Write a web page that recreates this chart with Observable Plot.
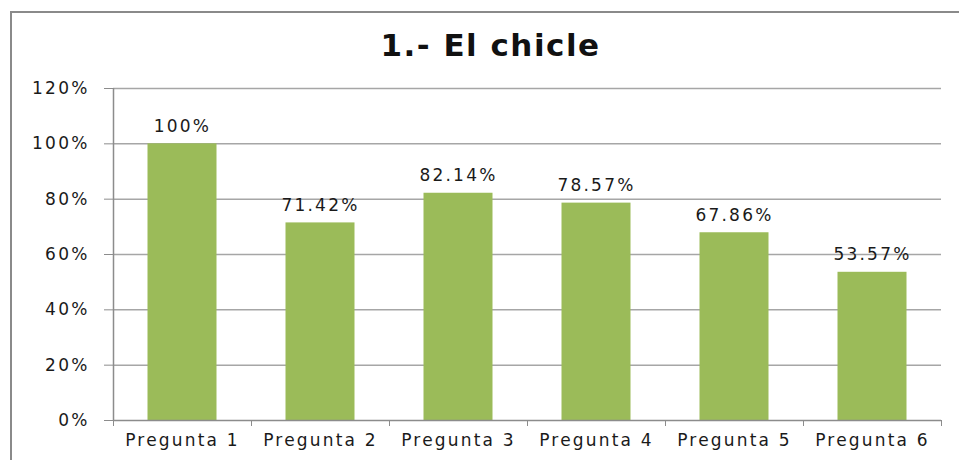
<!DOCTYPE html>
<html><head><meta charset="utf-8">
<script src="https://cdn.jsdelivr.net/npm/d3@7"></script>
<script src="https://cdn.jsdelivr.net/npm/@observablehq/plot@0.6"></script>
<style>
body{margin:0;background:#fff;}
#wrap{position:relative;width:959px;height:460px;overflow:hidden;background:#fff;}
#border{position:absolute;left:10px;top:11px;width:1000px;height:1000px;border:2px solid #8a8a8a;}
#title{position:absolute;left:11px;width:959px;top:27px;text-align:center;font:bold 31px "DejaVu Sans";letter-spacing:1.5px;color:#111;}
#chart{position:absolute;left:0;top:0;}
</style></head><body><div id="wrap"><div id="border"></div><div id="chart"></div><div id="title">1.- El chicle</div></div>
<script>
const categories = ["Pregunta 1", "Pregunta 2", "Pregunta 3", "Pregunta 4", "Pregunta 5", "Pregunta 6"];
const values = [1, 0.7142, 0.8214, 0.7857, 0.6786, 0.5357];
const valueLabels = ["100%", "71.42%", "82.14%", "78.57%", "67.86%", "53.57%"];
const yTicks = [0, 0.2, 0.4, 0.6, 0.8, 1, 1.2];

const data = categories.map((c, i) => ({cat: c, i, value: values[i], label: valueLabels[i]}));

const chart = Plot.plot({
  width: 959, height: 460,
  marginLeft: 113, marginRight: 18, marginTop: 88, marginBottom: 40,
  style: {fontFamily: "DejaVu Sans", fontSize: "17px", letterSpacing: "2.2px", color: "#1a1a1a", background: "transparent"},
  x: {domain: [0, 6], axis: null},
  y: {domain: [0, 1.2], axis: null},
  marks: [
    Plot.gridY(yTicks.slice(1), {stroke: "#a6a6a6", strokeOpacity: 1, strokeWidth: 1.5}),
    Plot.rectY(data, {x1: d => d.i + 0.25, x2: d => d.i + 0.75, y1: 0, y2: "value", fill: "#9BBB59"}),
    Plot.axisY(yTicks, {tickFormat: d3.format(".0%"), tickSize: 9, tickPadding: 15, stroke: "#8c8c8c", label: null}),
    Plot.ruleX([0], {stroke: "#8c8c8c", strokeWidth: 1.5}),
    Plot.ruleY([0], {stroke: "#8c8c8c", strokeWidth: 1.5}),
    Plot.axisX(d3.range(categories.length + 1), {tickSize: 6, tickFormat: () => "", stroke: "#8c8c8c", label: null}),
    Plot.axisX(data.map(d => d.i + 0.5), {tickSize: 0, tickPadding: 13, tickFormat: d => categories[Math.floor(d)], label: null}),
    Plot.text(data, {x: d => d.i + 0.5, y: "value", text: "label", dy: -12, lineAnchor: "bottom", fill: "#1a1a1a"})
  ]
});
document.getElementById("chart").appendChild(chart);
</script>
</body></html>
